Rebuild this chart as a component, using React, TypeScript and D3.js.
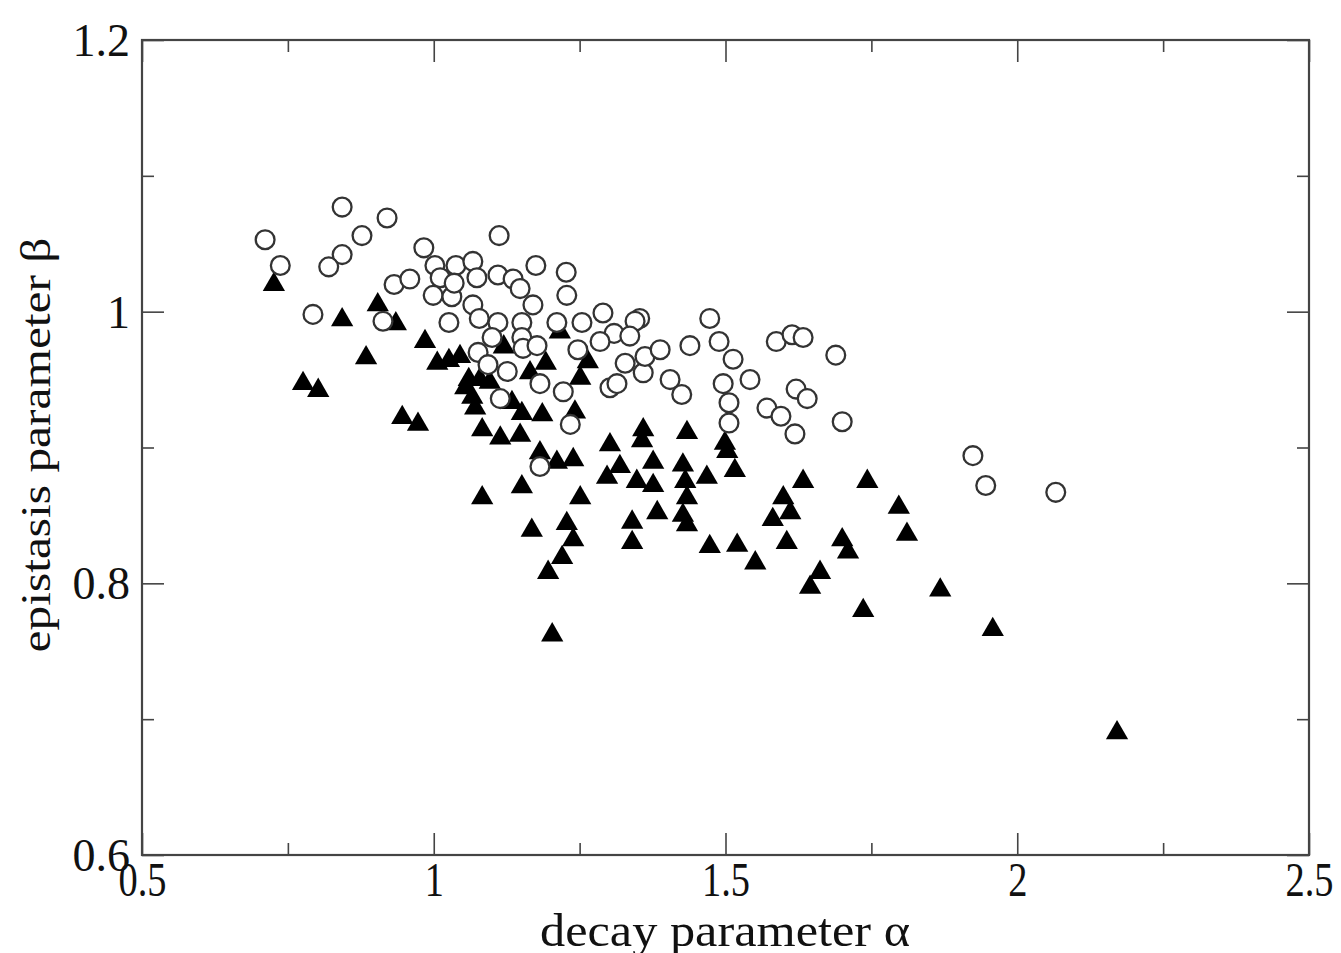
import { useEffect, useRef } from 'react';
import * as d3 from 'd3';

// open circles
const alphaOpen = [
  0.711, 0.737, 0.843, 0.843, 0.820, 0.877, 0.920, 0.793, 0.913, 0.932, 0.959, 0.983, 1.002,
  1.038, 1.067, 1.074, 1.110, 1.136, 1.148, 1.175, 1.227, 1.228, 1.112, 1.011, 0.999, 1.031,
  1.067, 1.078, 1.110, 1.026, 1.151, 1.170, 1.211, 1.100, 1.151, 1.153, 1.177, 1.254, 1.290,
  1.353, 1.345, 1.309, 1.336, 1.285, 1.247, 1.328, 1.359, 1.362, 1.388, 1.076, 1.093, 1.126,
  1.182, 1.222, 1.302, 1.314, 1.182, 1.234, 1.114, 1.035, 1.439, 1.473, 1.489, 1.513, 1.496,
  1.506, 1.506, 1.542, 1.587, 1.614, 1.633, 1.689, 1.621, 1.640, 1.571, 1.595, 1.619, 1.700,
  1.924, 1.946, 2.066, 1.405, 1.425,
];
const betaOpen = [
  1.053, 1.034, 1.077, 1.042, 1.033, 1.056, 1.069, 0.998, 0.993, 1.020, 1.024, 1.047, 1.034,
  1.034, 1.037, 1.025, 1.027, 1.024, 1.017, 1.034, 1.029, 1.012, 1.056, 1.025, 1.012, 1.011,
  1.005, 0.995, 0.992, 0.992, 0.992, 1.005, 0.992, 0.981, 0.981, 0.973, 0.975, 0.992, 0.999,
  0.995, 0.993, 0.984, 0.982, 0.978, 0.972, 0.962, 0.955, 0.967, 0.972, 0.970, 0.961, 0.956,
  0.947, 0.941, 0.944, 0.947, 0.886, 0.917, 0.936, 1.021, 0.975, 0.995, 0.978, 0.965, 0.947,
  0.933, 0.918, 0.950, 0.978, 0.983, 0.981, 0.968, 0.943, 0.936, 0.929, 0.923, 0.910, 0.919,
  0.894, 0.872, 0.867, 0.950, 0.939,
];

// filled triangles
const alphaFilled = [
  0.726, 0.776, 0.802, 0.843, 0.884, 0.904, 0.935, 0.946, 0.973, 0.985, 1.006, 1.026, 1.045,
  1.054, 1.060, 1.066, 1.071, 1.079, 1.096, 1.083, 1.114, 1.148, 1.151, 1.186, 1.120, 1.165,
  1.192, 1.134, 1.182, 1.211, 1.239, 1.151, 1.083, 1.251, 1.168, 1.228, 1.239, 1.220, 1.196,
  1.203, 1.216, 1.264, 1.251, 1.242, 1.302, 1.359, 1.357, 1.434, 1.319, 1.297, 1.348, 1.376,
  1.376, 1.427, 1.431, 1.434, 1.427, 1.434, 1.468, 1.499, 1.503, 1.516, 1.383, 1.340, 1.340,
  1.473, 1.520, 1.551, 1.633, 1.743, 1.599, 1.611, 1.581, 1.605, 1.700, 1.710, 1.662, 1.645,
  1.797, 1.811, 1.868, 1.736, 1.958, 2.171,
];
const betaFilled = [
  1.020, 0.947, 0.942, 0.994, 0.966, 1.005, 0.991, 0.922, 0.917, 0.978, 0.962, 0.964, 0.967,
  0.944, 0.950, 0.937, 0.929, 0.950, 0.948, 0.913, 0.907, 0.909, 0.925, 0.924, 0.974, 0.955,
  0.962, 0.933, 0.896, 0.889, 0.891, 0.871, 0.863, 0.863, 0.839, 0.844, 0.832, 0.819, 0.808,
  0.762, 0.985, 0.963, 0.951, 0.926, 0.902, 0.913, 0.905, 0.911, 0.886, 0.878, 0.875, 0.889,
  0.872, 0.887, 0.875, 0.863, 0.850, 0.843, 0.878, 0.903, 0.897, 0.883, 0.852, 0.845, 0.830,
  0.827, 0.828, 0.815, 0.875, 0.875, 0.863, 0.852, 0.847, 0.830, 0.832, 0.823, 0.808, 0.797,
  0.856, 0.836, 0.795, 0.780, 0.766, 0.690,
];

const xMajor = [0.5, 1, 1.5, 2, 2.5];
const xMinor = [0.75, 1.25, 1.75, 2.25];
const yMajor = [0.6, 0.8, 1, 1.2];
const yMinor = [0.7, 0.9, 1.1];

const W = 1341;
const H = 953;
const FONT = '"Liberation Serif", "Times New Roman", serif';

export default function App() {
  const svgRef = useRef<SVGSVGElement>(null);

  useEffect(() => {
    if (!svgRef.current) return;
    const svg = d3.select(svgRef.current);
    svg.selectAll('*').remove();

    const left = 142, right = 1309, top = 40, bottom = 855;
    const x = d3.scaleLinear().domain([0.5, 2.5]).range([left, right]);
    const y = d3.scaleLinear().domain([0.6, 1.2]).range([bottom, top]);

    const fmt = (d: d3.NumberValue) => `${+d}`;
    const major = 22, minor = 12;

    // ticks on all four sides, pointing inward
    const axes: [any, number, number, boolean][] = [
      [d3.axisBottom(x), 0, bottom, true],
      [d3.axisTop(x), 0, top, false],
      [d3.axisLeft(y), left, 0, true],
      [d3.axisRight(y), right, 0, false],
    ];
    axes.forEach(([gen, tx, ty, labels], i) => {
      const horiz = i < 2;
      const g = svg.append('g').attr('transform', `translate(${tx},${ty})`);
      g.call(
        gen.tickValues(horiz ? xMajor : yMajor)
          .tickSize(-major)
          .tickPadding(horiz ? 10 : 12)
          .tickFormat(labels ? fmt : () => '')
      );
      g.select('.domain').remove();
      g.selectAll('line').attr('stroke', '#444').attr('stroke-width', 1.6);
      const gm = svg.append('g').attr('transform', `translate(${tx},${ty})`);
      gm.call(gen.tickValues(horiz ? xMinor : yMinor).tickSize(-minor).tickFormat(() => ''));
      gm.select('.domain').remove();
      gm.selectAll('line').attr('stroke', '#444').attr('stroke-width', 1.6);
      g.selectAll('text')
        .attr('font-family', FONT)
        .attr('fill', '#111');
      if (labels && horiz) {
        g.selectAll('text')
          .attr('font-size', 48)
          .attr('dy', '0.72em')
          .attr('y', 6)
          .attr('transform', 'scale(0.8,1)');
      } else if (labels) {
        g.selectAll('text')
          .attr('font-size', 46)
          .attr('x', -12)
          .attr('dy', '0.34em');
      }
    });

    // frame
    svg.append('rect')
      .attr('x', left).attr('y', top)
      .attr('width', right - left).attr('height', bottom - top)
      .attr('fill', 'none').attr('stroke', '#444').attr('stroke-width', 2.2);

    // triangles (drawn first, circles sit on top)
    const tri = d3.symbol().type(d3.symbolTriangle).size(215);
    svg.append('g')
      .selectAll('path')
      .data(alphaFilled.map((a, i) => [a, betaFilled[i]]))
      .join('path')
      .attr('d', tri)
      .attr('transform', d => `translate(${x(d[0])},${y(d[1])})`)
      .attr('fill', '#000');

    svg.append('g')
      .selectAll('circle')
      .data(alphaOpen.map((a, i) => [a, betaOpen[i]]))
      .join('circle')
      .attr('cx', d => x(d[0]))
      .attr('cy', d => y(d[1]))
      .attr('r', 9.4)
      .attr('fill', '#fff')
      .attr('stroke', '#333')
      .attr('stroke-width', 2.3);

    // axis titles
    svg.append('text')
      .attr('x', 725).attr('y', 946)
      .attr('text-anchor', 'middle')
      .attr('font-family', FONT)
      .attr('font-size', 46)
      .attr('textLength', 370)
      .attr('lengthAdjust', 'spacingAndGlyphs')
      .attr('fill', '#111')
      .text('decay parameter α');

    svg.append('text')
      .attr('transform', `translate(50,445) rotate(-90)`)
      .attr('text-anchor', 'middle')
      .attr('font-family', FONT)
      .attr('font-size', 43)
      .attr('textLength', 415)
      .attr('lengthAdjust', 'spacingAndGlyphs')
      .attr('fill', '#111')
      .text('epistasis parameter β');
  }, []);

  return (
    <svg
      ref={svgRef}
      width={W}
      height={H}
      style={{ position: 'absolute', left: 0, top: 0, background: '#fff' }}
    />
  );
}
